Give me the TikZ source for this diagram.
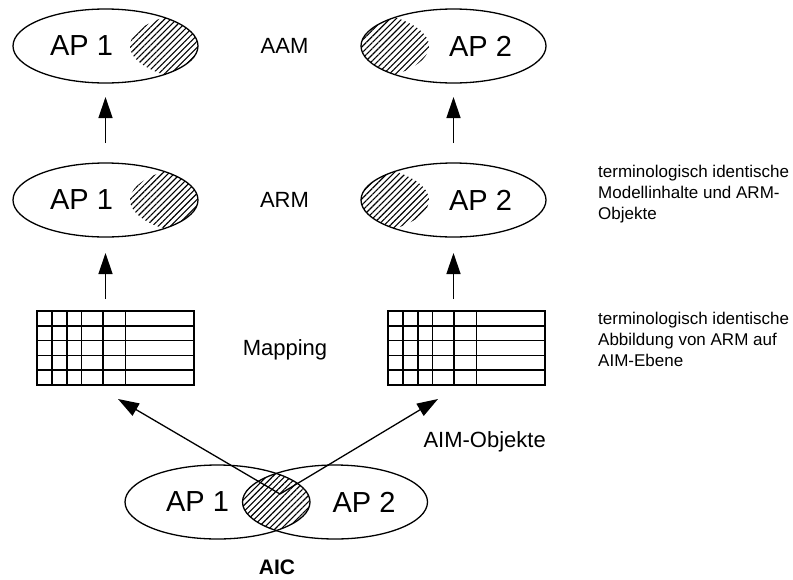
\documentclass[tikz,border=0pt]{standalone}
\usepackage{fontspec}
\setmainfont{Liberation Sans}
\usetikzlibrary{shapes.geometric,arrows.meta,positioning,patterns.meta,calc}

\begin{document}
\begin{tikzpicture}[
  x=1pt, y=-1pt,
  >={Triangle[length=21pt,width=14pt]},
  ap/.style={draw, ellipse, line width=1.3pt, minimum width=185pt,
             minimum height=74pt, inner sep=0pt, outer sep=0pt},
  aplabel/.style={font=\fontsize{29}{34}\selectfont},
  level/.style={font=\fontsize{22}{26}\selectfont},
  note/.style={align=left, anchor=north west, inner sep=0pt,
               font=\fontsize{17}{21}\selectfont},
  maptable/.style={draw, rectangle, line width=1.5pt, minimum width=157pt,
                   minimum height=74pt, inner sep=0pt, outer sep=0pt},
  grid/.style={line width=1.5pt},
  hatch/.style={pattern={Lines[angle=45,distance=4.3pt,line width=1.1pt]}},
  arrow/.style={->, line width=1.3pt}
]
\useasboundingbox (0,0) rectangle (793,579);

\node[ap] (aam1) at (105.5,46)  {};
\node[ap] (aam2) at (453.5,46)  {};
\node[ap] (arm1) at (105.5,200) {};
\node[ap] (arm2) at (453.5,200) {};
\node[ap] (aic1) at (217.5,502) {};
\node[ap] (aic2) at (335,502)   {};

\node[aplabel] (aam1txt) at ([xshift=-24pt]aam1.center) {AP 1};
\node[aplabel] (aam2txt) at ([xshift=27pt]aam2.center)  {AP 2};
\node[aplabel] (arm1txt) at ([xshift=-24pt]arm1.center) {AP 1};
\node[aplabel] (arm2txt) at ([xshift=27pt]arm2.center)  {AP 2};
\node[aplabel] (aic1txt) at ([xshift=-20pt]aic1.center) {AP 1};
\node[aplabel] (aic2txt) at ([xshift=29pt]aic2.center)  {AP 2};

\node[maptable] (map1) at (115.5,348) {};
\node[maptable] (map2) at (466.5,348) {};
\foreach \t in {map1,map2} {
  \foreach \r in {1,...,4}
    \draw[grid] ($(\t.north west)+(0,\r*14.8)$) -- ($(\t.north east)+(0,\r*14.8)$);
  \foreach \c in {15,30,44.5,66,88.5}
    \draw[grid] ($(\t.north west)+(\c,0)$) -- ($(\t.south west)+(\c,0)$);
}

\node[level] (aam) at (284.5,46)  {AAM};
\node[level] (arm) at (284.5,200) {ARM};
\node[level, anchor=base] (mapping) at (285,355) {Mapping};
\node[level, anchor=base west] (aimobj) at (420,447) {AIM-Objekte};
\node[inner sep=0pt, font=\fontsize{21}{25}\selectfont\bfseries] (aic) at (277,567) {AIC};

\node[note] (note1) at (598,165) {terminologisch identische\\Modellinhalte und ARM-\\Objekte};
\node[note] (note2) at (598,312) {terminologisch identische\\Abbildung von ARM auf\\AIM-Ebene};

\begin{scope}
  \clip (aam1.center) ellipse [x radius=92.5pt, y radius=37pt];
  \fill[hatch] ([xshift=117pt]aam1.center) ellipse [x radius=92.5pt, y radius=37pt];
\end{scope}
\begin{scope}
  \clip (aam2.center) ellipse [x radius=92.5pt, y radius=37pt];
  \fill[hatch] ([xshift=-117pt]aam2.center) ellipse [x radius=92.5pt, y radius=37pt];
\end{scope}
\begin{scope}
  \clip (arm1.center) ellipse [x radius=92.5pt, y radius=37pt];
  \fill[hatch] ([xshift=117pt]arm1.center) ellipse [x radius=92.5pt, y radius=37pt];
\end{scope}
\begin{scope}
  \clip (arm2.center) ellipse [x radius=92.5pt, y radius=37pt];
  \fill[hatch] ([xshift=-117pt]arm2.center) ellipse [x radius=92.5pt, y radius=37pt];
\end{scope}
\begin{scope}
  \clip (aic1.center) ellipse [x radius=92.5pt, y radius=37pt];
  \fill[hatch] (aic2.center) ellipse [x radius=92.5pt, y radius=37pt];
\end{scope}

\coordinate (cut)  at (280,494);
\coordinate (tip1) at (118,399);
\coordinate (tip2) at (438,399);

\draw[arrow, shorten <=20pt, shorten >=14pt] (arm1.north) -- (aam1.south);
\draw[arrow, shorten <=20pt, shorten >=14pt] (arm2.north) -- (aam2.south);
\draw[arrow, shorten <=12pt, shorten >=16pt] (map1.north -| arm1) -- (arm1.south);
\draw[arrow, shorten <=12pt, shorten >=16pt] (map2.north -| arm2) -- (arm2.south);
\draw[arrow] (cut) -- (tip1);
\draw[arrow] (cut) -- (tip2);
\end{tikzpicture}
\end{document}
